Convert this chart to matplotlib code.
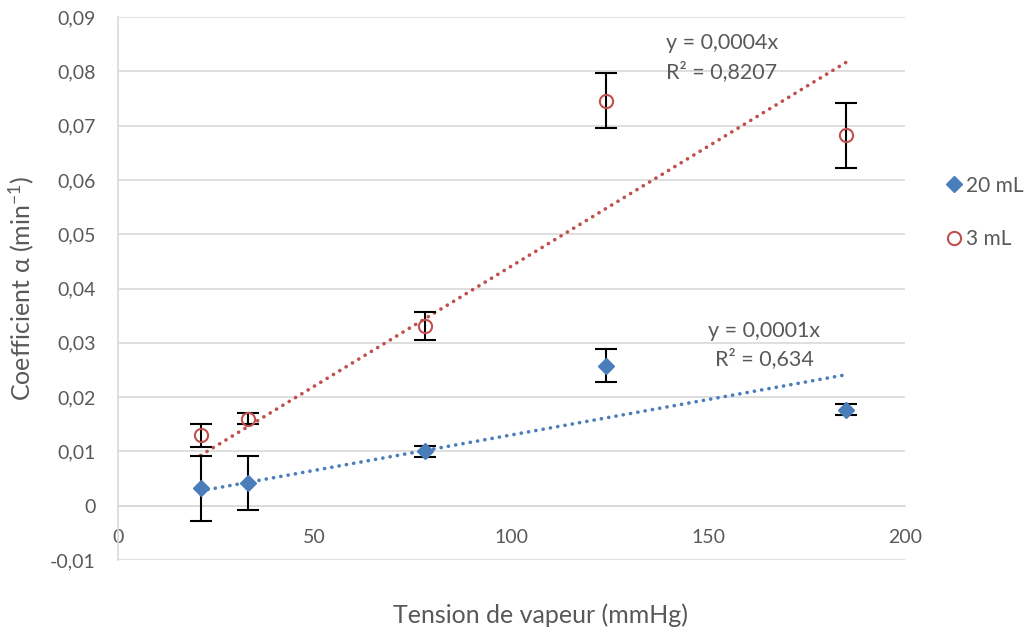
import numpy as np
import matplotlib
matplotlib.use("Agg")
import matplotlib.pyplot as plt
from matplotlib.ticker import FuncFormatter

plt.rcParams['font.family'] = ['Lato', 'DejaVu Sans']
plt.rcParams['mathtext.default'] = 'regular'

# data
pression = [21, 33, 78, 124, 185]
alpha_20 = [0.0032, 0.0042, 0.0100, 0.0258, 0.0177]
err_20 = [0.0060, 0.0050, 0.0010, 0.0030, 0.0010]
alpha_3 = [0.0130, 0.0160, 0.0331, 0.0746, 0.0682]
err_3 = [0.0021, 0.0010, 0.0025, 0.0050, 0.0060]

eq_20 = ["y = 0,0001x", "R² = 0,634"]
eq_3 = ["y = 0,0004x", "R² = 0,8207"]

blue = '#4a7ebb'
red = '#c0504d'
grey = '#595959'
gridc = '#d9d9d9'

fig = plt.figure(figsize=(10.24, 6.32), dpi=100)
ax = fig.add_axes([0.1152, 0.1139, 0.7686, 0.8592])

x = np.array(pression, dtype=float)

# trend lines through origin
for ys, col in [(alpha_20, blue), (alpha_3, red)]:
    ys = np.array(ys)
    k = np.sum(x * ys) / np.sum(x * x)
    xx = np.array([x.min(), x.max()])
    ax.plot(xx, k * xx, color=col, linestyle=(0, (0.05, 2.0)), linewidth=2.6,
            dash_capstyle='round', zorder=2)

ax.errorbar(pression, alpha_20, yerr=err_20, fmt='none', ecolor='black',
            elinewidth=1.5, capsize=8, capthick=1.5, zorder=3)
ax.errorbar(pression, alpha_3, yerr=err_3, fmt='none', ecolor='black',
            elinewidth=1.5, capsize=8, capthick=1.5, zorder=3)
l1, = ax.plot(pression, alpha_20, 'D', color=blue, markersize=8.5, linestyle='none',
              zorder=4, label='20 mL')
l2, = ax.plot(pression, alpha_3, 'o', markerfacecolor='none', markeredgecolor=red,
              markeredgewidth=1.5, markersize=9.5, linestyle='none', zorder=4, label='3 mL')

ax.text(153.5, 0.0852, eq_3[0], ha='center', va='center', fontsize=15.5, color=grey)
ax.text(153.5, 0.0799, eq_3[1], ha='center', va='center', fontsize=15.5, color=grey)
ax.text(164.2, 0.0322, eq_20[0], ha='center', va='center', fontsize=15.5, color=grey)
ax.text(164.2, 0.0270, eq_20[1], ha='center', va='center', fontsize=15.5, color=grey)

ax.set_xlim(0, 200)
ax.set_ylim(-0.01, 0.09)
ax.set_xticks([0, 50, 100, 150, 200])
ax.set_yticks(np.arange(-0.01, 0.0901, 0.01))
ax.yaxis.set_major_formatter(FuncFormatter(
    lambda v, p: '0' if abs(v) < 1e-9 else ('%.2f' % v).replace('.', ',')))
ax.grid(axis='y', color=gridc, linewidth=1.2)
ax.set_axisbelow(True)
for s in ['top', 'right']:
    ax.spines[s].set_visible(False)
ax.spines['left'].set_color(gridc)
ax.spines['left'].set_linewidth(1.2)
ax.spines['bottom'].set_position(('data', 0))
ax.spines['bottom'].set_color(gridc)
ax.spines['bottom'].set_linewidth(1.2)
ax.tick_params(length=0, labelsize=14, labelcolor=grey)
ax.tick_params(axis='y', pad=16)
ax.tick_params(axis='x', pad=17)

ax.set_ylabel('Coefficient α (min$^{-1}$)', fontsize=18, color=grey, labelpad=10)
fig.text(0.528, 0.027, 'Tension de vapeur (mmHg)', ha='center', va='center',
         fontsize=18, color=grey)

fig.legend(handles=[l1, l2], loc='center left', bbox_to_anchor=(0.917, 0.664),
           frameon=False, fontsize=15, labelcolor=grey, handlelength=0.6,
           handletextpad=0.3, labelspacing=1.6, borderaxespad=0)

fig.savefig('out.png', dpi=100)
